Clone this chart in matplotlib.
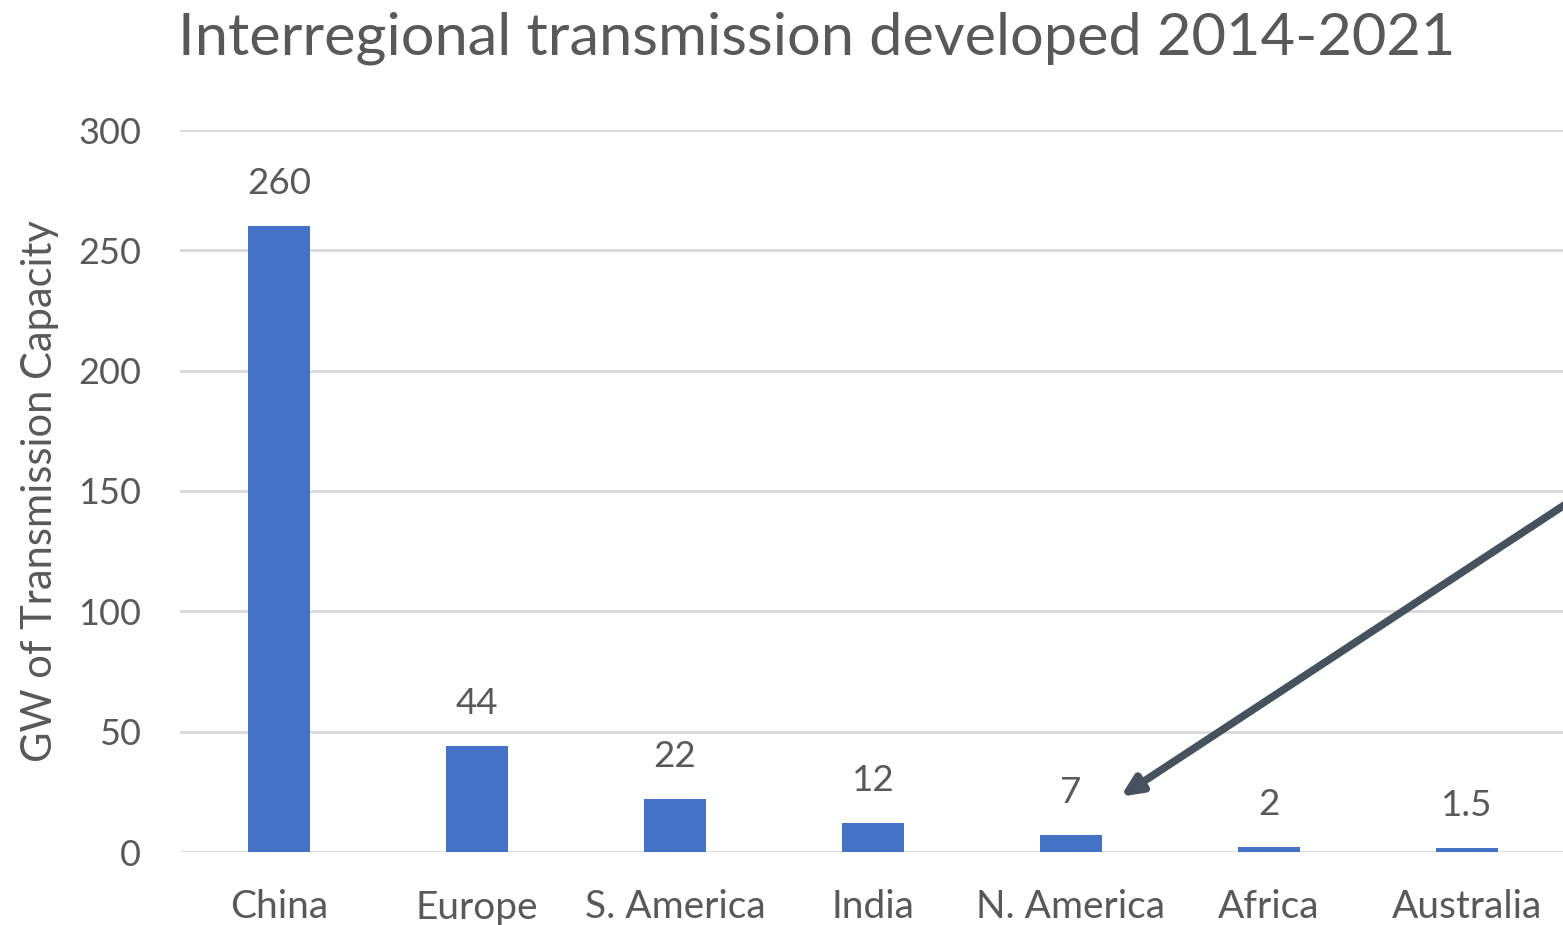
import matplotlib.pyplot as plt
import numpy as np

# Interregional transmission capacity developed 2014-2021 (GW)
regions = ["China", "Europe", "S. America", "India", "N. America", "Africa", "Australia"]
capacity_gw = [260, 44, 22, 12, 7, 2, 1.5]
value_labels = ["260", "44", "22", "12", "7", "2", "1.5"]
y_ticks = [0, 50, 100, 150, 200, 250, 300]

plt.rcParams["font.family"] = ["Lato", "DejaVu Sans"]
text_color = "#595959"
bar_color = "#4472C4"

W, H = 1563, 925
fig = plt.figure(figsize=(W / 100, H / 100), dpi=100)
ax = fig.add_axes([180 / W, 73 / H, (1566 - 180) / W, 722 / H])

x = np.arange(len(regions))
bars = ax.bar(x, capacity_gw, width=0.31, color=bar_color, zorder=3)

for xi, v, lab in zip(x, capacity_gw, value_labels):
    ax.annotate(lab, (xi, v), xytext=(0, 19), textcoords="offset points",
                ha="center", va="bottom", fontsize=26.5, color=text_color)

ax.set_xlim(-0.5, len(regions) - 0.5)
ax.set_ylim(0, 300)
ax.set_yticks(y_ticks)
ax.set_xticks(x)
ax.set_xticklabels(regions)
ax.tick_params(axis="y", length=0, labelsize=26, labelcolor=text_color, pad=28)
ax.tick_params(axis="x", length=0, labelsize=28, labelcolor=text_color, pad=27)
ax.grid(axis="y", color="#D9D9D9", linewidth=2, zorder=0)
for s in ax.spines.values():
    s.set_visible(False)

ax.set_ylabel("GW of Transmission Capacity", fontsize=30, color=text_color)
ax.yaxis.set_label_coords(-0.087, 0.5)

fig.text(178 / W, 1 - 38 / H, "Interregional transmission developed 2014-2021",
         fontsize=42.8, color=text_color, ha="left", va="center")

# Arrow pointing at the N. America bar
ax.annotate("", xy=(4.25, 23), xytext=(6.6, 150),
            arrowprops=dict(arrowstyle="-|>,head_length=1.2,head_width=0.55",
                            color="#46525E", lw=5.5, shrinkA=0, shrinkB=0),
            annotation_clip=False, zorder=5)

fig.savefig("out.png", dpi=100)
